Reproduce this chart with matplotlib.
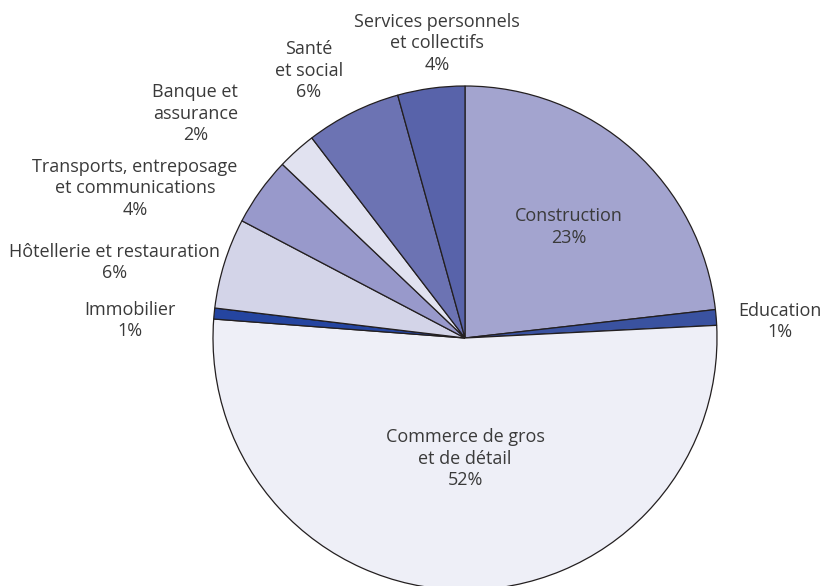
import matplotlib
matplotlib.use("Agg")
import matplotlib.pyplot as plt

# share of enterprises by sector, clockwise from the top
sectors = ["Construction", "Education", "Commerce de gros\net de détail", "Immobilier",
           "Hôtellerie et restauration", "Transports, entreposage\net communications",
           "Banque et\nassurance", "Santé\net social", "Services personnels\net collectifs"]
shares = [23.2, 1.0, 52.0, 0.7, 5.8, 4.4, 2.5, 6.1, 4.3]
colors = ["#a3a4cf", "#3a52a0", "#eeeff7", "#2545a0", "#d3d4e8",
          "#9899cb", "#e1e2f0", "#6c73b3", "#5863aa"]

# label anchors in units of the pie radius
label_pos = [(0.41, 0.44), (1.25, 0.065), (0.0, -0.48), (-1.33, 0.07), (-1.39, 0.30),
             (-1.31, 0.595), (-1.07, 0.89), (-0.62, 1.06), (-0.11, 1.17)]

plt.rcParams["font.family"] = ["Open Sans", "DejaVu Sans"]

W, H = 822, 586
fig = plt.figure(figsize=(W / 100, H / 100), dpi=100)
r = 252
cx, cy = 465, H - 338
ax = fig.add_axes([(cx - r) / W, (cy - r) / H, 2 * r / W, 2 * r / H])

ax.pie(shares, colors=colors, startangle=90, counterclock=False, radius=1,
       wedgeprops=dict(edgecolor="#231f20", linewidth=0.9))
ax.set_xlim(-1, 1)
ax.set_ylim(-1, 1)
ax.set_aspect("equal")
ax.axis("off")

for name, val, (x, y) in zip(sectors, shares, label_pos):
    ax.text(x, y, f"{name}\n{val:.0f}%", ha="center", va="center", fontsize=13,
            color="#3a3a3a", linespacing=1.25, clip_on=False)

fig.savefig("out.png", dpi=100)
